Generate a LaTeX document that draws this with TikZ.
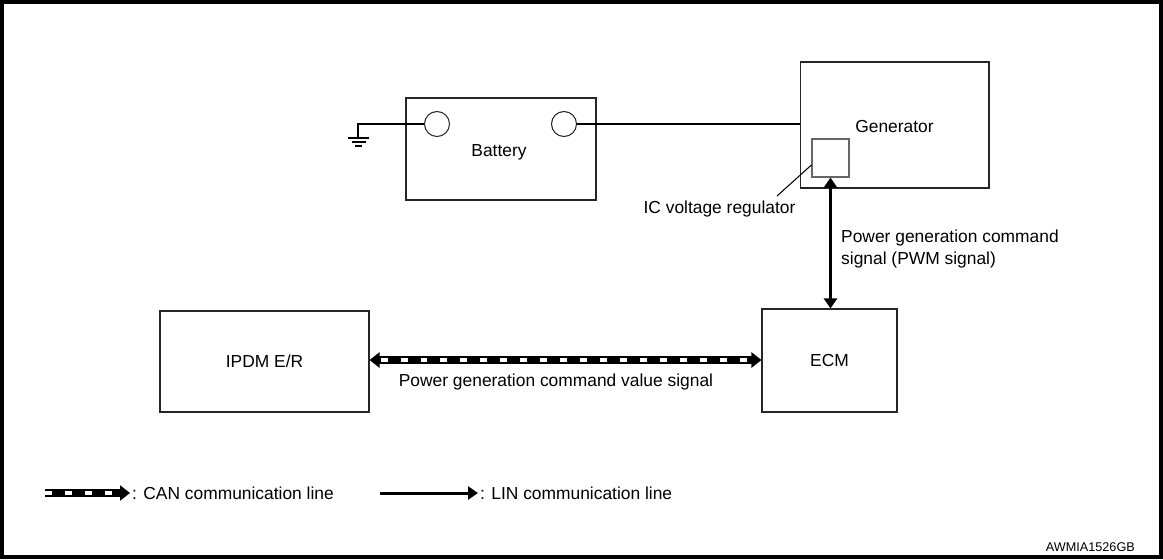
\documentclass[tikz,border=0pt]{standalone}
\usepackage{fontspec}
\setmainfont{Liberation Sans}
\usepackage{tikz}
\usetikzlibrary{positioning,calc,arrows.meta}
\colorlet{boxline}{black!85}

\begin{document}
\begin{tikzpicture}[x=0.02cm,y=-0.02cm,thin,font=\fontsize{9.9}{12.5}\selectfont]
            \tikzset{
                unit/.style={
                    draw=boxline,
                    line width=0.6pt,
                    inner sep=0pt,
                    align=center
                },
                terminal/.style={
                    draw=boxline,
                    circle,
                    line width=0.6pt,
                    minimum size=0.5cm,
                    inner sep=0pt
                },
                wire/.style={line width=0.6pt},
                canline/.style={
                    line width=4.5pt,
                    {Triangle[length=0.2cm,width=0.3cm]}-{Triangle[length=0.2cm,width=0.3cm]}
                },
                canfill/.style={
                    white,
                    line width=2pt,
                    dash pattern=on 0.14cm off 0.26cm,
                    shorten <=0.22cm,
                    shorten >=0.22cm
                },
                linline/.style={
                    line width=1.7pt,
                    -{Triangle[length=0.2cm,width=0.26cm]}
                }
            }

            \useasboundingbox (0,0) rectangle (1163,559);
            \draw[line width=0.08cm] (2,2) rectangle (1161,557);

            % Battery
            \node[unit,minimum width=3.8cm,minimum height=2.04cm] (battery) at (501,149) {};
            \node (batLabel) at (499,152) {Battery};
            \node[terminal] (batNeg) at (437,124) {};
            \node[terminal] (batPos) at (564,124) {};

            %% Ground
            \coordinate (gnd) at (358,138);
            \draw[wire] (batNeg.west) -| (gnd);
            \draw[wire] (348,138) -- (369,138);
            \draw[wire] (352,142) -- (366,142);
            \draw[wire] (355,146) -- (362,146);

            % Generator
            \node[unit,minimum width=3.78cm,minimum height=2.52cm] (gen) at (894.5,125) {};
            \node (genLabel) at (894.5,127) {Generator};
            \node[draw=black!60,line width=0.7pt,minimum width=0.74cm,minimum height=0.76cm,inner sep=0pt] (icreg) at (830.5,158) {};
            \draw[wire] (batPos.east) -- (batPos.east -| gen.west);

            \node (icLabel) at (719.5,209) {IC voltage regulator};
            \coordinate (icTip) at (777,196);
            \draw[wire] ($(icreg.west)+(0,7)$) -- (icTip);

            % Control units
            \node[unit,minimum width=4.18cm,minimum height=2.02cm] (ipdm) at (264.5,361.5) {IPDM E/R};
            \node[unit,minimum width=2.7cm,minimum height=2.06cm] (ecm) at (829.5,360.5) {ECM};

            %% PWM signal
            \draw[linline,{Triangle[length=0.2cm,width=0.26cm]}-{Triangle[length=0.2cm,width=0.26cm]}]
                (icreg.south) -- (icreg.south |- ecm.north);
            \node[anchor=west,align=left] (pwmLabel) at (835,249)
                {Power generation command\\signal (PWM signal)};

            %% CAN signal
            \coordinate (canL) at (ipdm.east |- 0,360);
            \coordinate (canR) at (ecm.west |- 0,360);
            \draw[canline] (canL) -- (canR);
            \draw[canfill] (canL) -- (canR);
            \node (canLabel) at (556,382) {Power generation command value signal};

            % Legend
            \coordinate (canKeyA) at (45,493);
            \coordinate (canKeyB) at (130,493);
            \draw[line width=4.5pt,-{Triangle[length=0.2cm,width=0.3cm]}] (canKeyA) -- (canKeyB);
            \draw[white,line width=2pt,dash pattern=on 0.14cm off 0.26cm,shorten >=0.22cm] (canKeyA) -- (canKeyB);
            \node[anchor=west,inner sep=1pt] (canKey) at (canKeyB) {: CAN communication line};

            \coordinate (linKeyA) at (380,493);
            \coordinate (linKeyB) at (478,493);
            \draw[linline] (linKeyA) -- (linKeyB);
            \node[anchor=west,inner sep=1pt] (linKey) at (linKeyB) {: LIN communication line};

            \node[anchor=east,font=\fontsize{7.2}{9}\selectfont] (figId) at (1141,547) {AWMIA1526GB};
        \end{tikzpicture}
\end{document}
